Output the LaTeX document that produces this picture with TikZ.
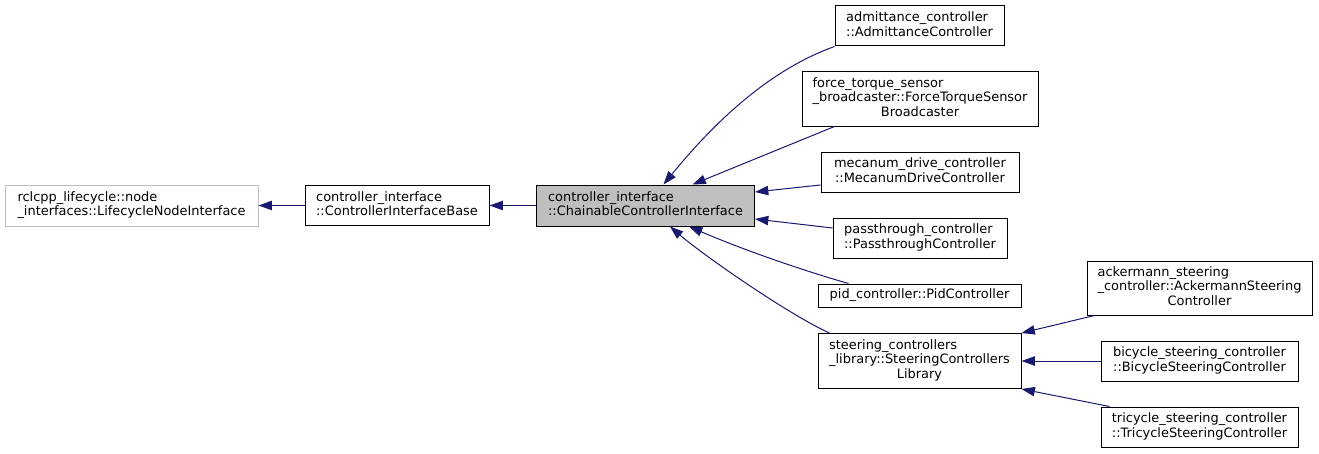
\documentclass[tikz,border=0pt]{standalone}
\usepackage{fontspec}
\setmainfont{DejaVu Sans}
\usepackage{xcolor}
\usepackage{tikz}
\usetikzlibrary{arrows.meta,calc,positioning}

\definecolor{edgeblue}{HTML}{191970}
\definecolor{boxgray}{HTML}{BFBFBF}
\newcommand{\twol}[2]{\begin{tabular}{@{}l@{}}#1\\\multicolumn{1}{@{}c@{}}{#2}\end{tabular}}
\newcommand{\threel}[3]{\begin{tabular}{@{}l@{}}#1\\#2\\\multicolumn{1}{@{}c@{}}{#3}\end{tabular}}

\begin{document}
\begin{tikzpicture}[x=0.75pt,y=-0.75pt,
  cls/.style={draw=black,fill=white,line width=0.75pt,inner sep=0pt,
    font=\fontsize{9.7}{10.8}\selectfont},
  sz/.style 2 args={minimum width=#1*0.75pt,minimum height=#2*0.75pt},
  inh/.style={draw=edgeblue,line width=0.75pt,-{Triangle[length=10pt,width=7pt]}}]
  \useasboundingbox (0,0) rectangle (1319,453);
  % base classes
  \node[cls,draw=boxgray,sz={253}{41}] (life) at (131.5,205.5)
    {\twol{rclcpp\_lifecycle::node}{\_interfaces::LifecycleNodeInterface}};
  \node[cls,sz={184}{40}] (base) at (397,205.5)
    {\twol{controller\_interface}{::ControllerInterfaceBase}};
  \node[cls,fill=boxgray,sz={218}{41}] (chain) at (645.5,205.5)
    {\twol{controller\_interface}{::ChainableControllerInterface}};
  % derived classes
  \node[cls,sz={169}{40}] (adm) at (919.5,26)
    {\twol{admittance\_controller}{::AdmittanceController}};
  \node[cls,sz={236}{54}] (fts) at (920,99)
    {\threel{force\_torque\_sensor}{\_broadcaster::ForceTorqueSensor}{Broadcaster}};
  \node[cls,sz={198}{40}] (mec) at (920,172)
    {\twol{mecanum\_drive\_controller}{::MecanumDriveController}};
  \node[cls,sz={174}{40}] (pass) at (920,238)
    {\twol{passthrough\_controller}{::PassthroughController}};
  \node[cls,sz={203}{23}] (pid) at (919.5,295.5)
    {pid\_controller::PidController};
  \node[cls,sz={203}{55}] (steer) at (919.5,361)
    {\threel{steering\_controllers}{\_library::SteeringControllers}{Library}};
  \node[cls,sz={225}{54}] (ack) at (1199.5,288)
    {\threel{ackermann\_steering}{\_controller::AckermannSteering}{Controller}};
  \node[cls,sz={197}{40}] (bic) at (1199.5,361)
    {\twol{bicycle\_steering\_controller}{::BicycleSteeringController}};
  \node[cls,sz={197}{40}] (tri) at (1199.5,427)
    {\twol{tricycle\_steering\_controller}{::TricycleSteeringController}};
  % inheritance arrows
  \draw[inh] (base.west) -- (life.east);
  \draw[inh] (chain.west) -- (base.east);
  \draw[inh] (adm.south west) .. controls +(-70,25) and +(45,-55) .. ($(chain.north)+(18,0)$);
  \draw[inh] ($(fts.south west)+(33,0)$) -- ($(chain.north)+(47,0)$);
  \draw[inh] ($(mec.west)+(0,13)$) -- ($(chain.east)+(0,-13.5)$);
  \draw[inh] ($(pass.west)+(0,-10)$) -- ($(chain.east)+(0,13.5)$);
  \draw[inh] ($(pid.north west)+(31,0)$) .. controls +(-49,-14) and +(51,22) .. ($(chain.south)+(43.5,0)$);
  \draw[inh] ($(steer.north west)+(12,0)$) .. controls +(-40,-18) and +(35,30) .. ($(chain.south)+(24.5,0)$);
  \draw[inh] ($(ack.south west)+(8,0)$) -- (steer.north east);
  \draw[inh] (bic.west) -- (steer.east);
  \draw[inh] ($(tri.north west)+(9,0)$) -- (steer.south east);
\end{tikzpicture}
\end{document}
